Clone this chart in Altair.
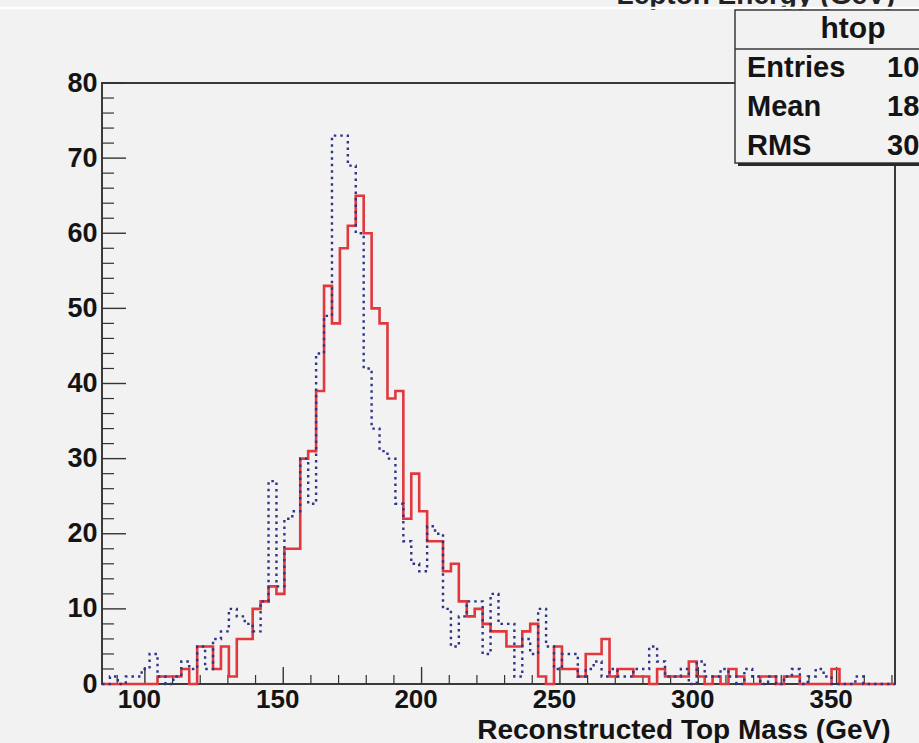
import altair as alt
import pandas as pd

# ---------------- data ----------------
x_lo = 84.5
x_hi = 371.1
n_bins = 100

red_counts = [
    0, 0, 0, 0, 0, 0, 0,
    1, 1, 1, 2, 0, 5, 5, 2, 5, 1,
    6, 6, 10, 11, 13, 12, 18, 18, 30, 31,
    39, 53, 48, 58, 61, 65, 60, 50, 48, 38,
    39, 22, 28, 23, 19, 19, 15, 16, 11, 9,
    10, 8, 7, 7, 5, 5, 7, 8, 1, 0,
    5, 2, 2, 1, 4, 4, 6, 1, 2, 2,
    1, 1, 0, 2, 1, 1, 1, 3, 1, 0,
    1, 0, 2, 1, 0, 0, 1, 1, 0, 1,
    1, 0, 0, 0, 0, 2, 0, 0, 0, 0, 0, 0, 0,
]

blue_counts = [
    0, 1, 0, 1, 1, 2, 4, 1, 0, 1,
    3, 2, 5, 2, 6, 7, 10, 9, 8, 7,
    11, 27, 13, 22, 23, 30, 24, 44, 49, 73,
    73, 69, 60, 42, 34, 31, 30, 24, 19, 16,
    15, 21, 20, 10, 5, 9, 11, 11, 4, 12,
    8, 8, 1, 6, 4, 10, 5, 2, 4, 4,
    1, 2, 3, 1, 2, 1, 1, 2, 2, 5,
    3, 1, 1, 2, 0, 3, 1, 1, 2, 1,
    0, 2, 1, 0, 1, 0, 1, 2, 0, 1,
    2, 1, 0, 0, 0, 1, 0, 0, 0, 0,
]

x_major = [100, 150, 200, 250, 300, 350]
x_minor = [v for v in range(90, 371, 10) if v not in x_major]
y_major = [0, 10, 20, 30, 40, 50, 60, 70, 80]
y_minor = [v for v in range(2, 80, 2) if v not in y_major]

x_title = "Reconstructed Top Mass (GeV)"
prev_title = "Lepton Energy (GeV)"
stats_name = "htop"
stats_labels = ["Entries", "Mean", "RMS"]
stats_values = ["1000", "181.2", "30.38"]

# ---------------- layout / style ----------------
W, H = 793, 601
PAD = {"left": 102, "top": 83, "right": 24, "bottom": 59}
FONT = "Liberation Sans"
BG = "#f2f2f2"
INK = "#141414"


def step_table(counts, name):
    w = (x_hi - x_lo) / n_bins
    rows = [{"x": x_lo, "y": 0, "o": 0, "s": name}]
    for i, c in enumerate(counts):
        rows.append({"x": x_lo + i * w, "y": c, "o": i + 1, "s": name})
    rows.append({"x": x_hi, "y": counts[-1], "o": len(counts) + 1, "s": name})
    rows.append({"x": x_hi, "y": 0, "o": len(counts) + 2, "s": name})
    return pd.DataFrame(rows)


x_scale = alt.Scale(domain=[x_lo, x_hi], nice=False, zero=False)
y_scale = alt.Scale(domain=[0, 80], nice=False, zero=True)

x_axis = alt.Axis(
    values=x_major, ticks=False, domain=False, grid=False,
    labelFont=FONT, labelFontSize=26, labelFontWeight="bold", labelColor=INK,
    labelPadding=2, labelFlush=False, labelOffset=-6,
    title=x_title, titleFont=FONT, titleFontSize=28, titleFontWeight="bold",
    titleColor=INK, titleAnchor="end", titleAlign="right",
    titleX=788, titleY=54, titleBaseline="alphabetic",
)
y_axis = alt.Axis(
    values=y_major, ticks=False, domain=False, grid=False,
    labelFont=FONT, labelFontSize=27, labelFontWeight="bold", labelColor=INK,
    labelPadding=5, labelFlush=False, title=None,
)

X = alt.X("x:Q", scale=x_scale, axis=x_axis)
Y = alt.Y("y:Q", scale=y_scale, axis=y_axis)

red_line = alt.Chart(step_table(red_counts, "red")).mark_line(
    interpolate="step-after", color="#e0383c", strokeWidth=2.6
).encode(x=X, y=Y, order="o:Q")

blue_line = alt.Chart(step_table(blue_counts, "blue")).mark_line(
    interpolate="step-after", color="#2f3488", strokeWidth=2.4,
    strokeDash=[2.5, 4]
).encode(x=X, y=Y, order="o:Q")

tick_col = "#333333"
y_maj_ticks = alt.Chart(pd.DataFrame({"y": y_major})).mark_rule(
    color=tick_col, strokeWidth=1.4
).encode(y=Y, x=alt.value(0), x2=alt.value(24))
y_min_ticks = alt.Chart(pd.DataFrame({"y": y_minor})).mark_rule(
    color=tick_col, strokeWidth=1.2
).encode(y=Y, x=alt.value(0), x2=alt.value(12))
x_maj_ticks = alt.Chart(pd.DataFrame({"x": x_major})).mark_rule(
    color=tick_col, strokeWidth=1.4
).encode(x=X, y=alt.value(H), y2=alt.value(H - 17))
x_min_ticks = alt.Chart(pd.DataFrame({"x": x_minor})).mark_rule(
    color=tick_col, strokeWidth=1.2
).encode(x=X, y=alt.value(H), y2=alt.value(H - 9))

one = pd.DataFrame({"a": [0]})

# remnant of the chart above (cut off at the top edge)
prev_text = alt.Chart(one).mark_text(
    align="right", baseline="alphabetic", font=FONT, fontSize=28,
    fontWeight="bold", color="#222222"
).encode(x=alt.value(793), y=alt.value(-79), text=alt.value(prev_title))
white_band = alt.Chart(one).mark_rule(color="#ffffff", strokeWidth=2.5).encode(
    x=alt.value(-102), x2=alt.value(820), y=alt.value(-75)
)

# stats box
bx0, by0, by1 = 633, -73, 80
box = alt.Chart(one).mark_rect(fill=BG, stroke="#3a3a3a", strokeWidth=1.5).encode(
    x=alt.value(bx0), x2=alt.value(bx0 + 300), y=alt.value(by0), y2=alt.value(by1)
)
box_shadow = alt.Chart(one).mark_rule(color="#2a2a2a", strokeWidth=3).encode(
    x=alt.value(bx0 + 3), x2=alt.value(bx0 + 300), y=alt.value(by1 + 1.5)
)
box_sep = alt.Chart(one).mark_rule(color="#3a3a3a", strokeWidth=1.5).encode(
    x=alt.value(bx0), x2=alt.value(bx0 + 300), y=alt.value(by0 + 39)
)
box_title = alt.Chart(one).mark_text(
    align="center", baseline="alphabetic", font=FONT, fontSize=30,
    fontWeight="bold", color=INK
).encode(x=alt.value(bx0 + 118), y=alt.value(by0 + 28), text=alt.value(stats_name))

stat_layers = []
for k, (lab, val) in enumerate(zip(stats_labels, stats_values)):
    yy = -6 + k * 39
    stat_layers.append(alt.Chart(one).mark_text(
        align="left", baseline="alphabetic", font=FONT, fontSize=29,
        fontWeight="bold", color=INK
    ).encode(x=alt.value(bx0 + 12), y=alt.value(yy), text=alt.value(lab)))
    stat_layers.append(alt.Chart(one).mark_text(
        align="left", baseline="alphabetic", font=FONT, fontSize=29,
        fontWeight="bold", color=INK
    ).encode(x=alt.value(bx0 + 152), y=alt.value(yy), text=alt.value(val)))

chart = alt.layer(
    y_min_ticks, y_maj_ticks, x_min_ticks, x_maj_ticks,
    red_line, blue_line,
    prev_text, white_band,
    box, box_shadow, box_sep, box_title, *stat_layers,
).properties(
    width=W, height=H,
    autosize=alt.AutoSizeParams(type="none"),
    padding=PAD,
    background=BG,
).configure_view(
    stroke="#3a3a3a", strokeWidth=2, fill=BG
)

chart.save("out.html", embed_options={"renderer": "svg", "actions": False})
